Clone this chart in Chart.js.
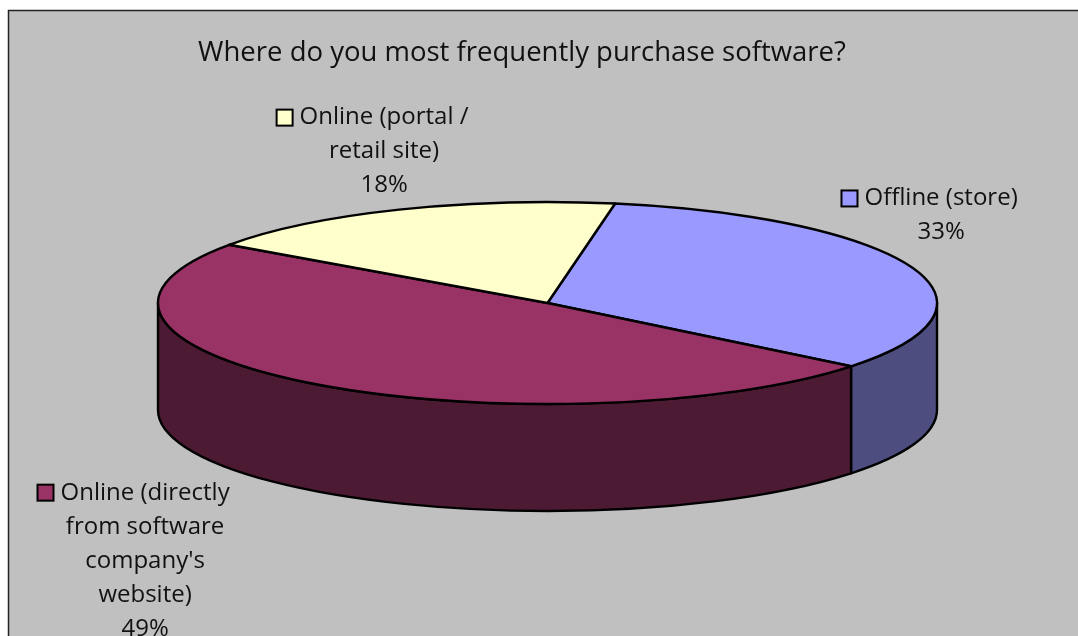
<!DOCTYPE html>
<html>
<head>
<meta charset="utf-8">
<script src="https://cdn.jsdelivr.net/npm/chart.js@4/dist/chart.umd.min.js"></script>
<style>
    html, body { margin: 0; padding: 0; background: #fff; }
    canvas { display: block; }
</style>
</head>
<body>
<canvas id="softwareChart" width="1078" height="636"></canvas>
<script>
const chartTitle = 'Where do you most frequently purchase software?';
const categories = ['Offline (store)', "Online (directly from software company's website)", 'Online (portal / retail site)'];
const shares = [33, 49, 18];
// wrapped text as it sits next to each slice
const labelLines = [
    ['Offline (store)'],
    ['Online (directly', 'from software', "company's", 'website)'],
    ['Online (portal /', 'retail site)']
];
const sliceColors = ['#9999ff', '#993366', '#ffffcc'];

document.addEventListener('DOMContentLoaded', () => {
    buildPieChart();
});

function darken(hex, f) {
    const n = parseInt(hex.slice(1), 16);
    const r = Math.round(((n >> 16) & 255) * f);
    const g = Math.round(((n >> 8) & 255) * f);
    const b = Math.round((n & 255) * f);
    return `rgb(${r}, ${g}, ${b})`;
}

const DEPTH = 107;        // height of the pie wall
const FONT = '"Open Sans", "DejaVu Sans", sans-serif';
// where each label block sits relative to its slice edge
const labelOffsets = [[29, -69], [-168, 2], [-15, -92]];

function pieGeometry(chart) {
    const a = chart.chartArea;
    const rx = (a.right - a.left) / 2;
    const ry = (a.bottom - a.top - DEPTH) / 2;
    return { cx: (a.left + a.right) / 2, cy: a.top + ry, rx, ry };
}

const pie3d = {
    id: 'pie3d',
    beforeDraw(chart) {
        const { ctx, width, height } = chart;
        ctx.save();
        ctx.fillStyle = '#ffffff';
        ctx.fillRect(0, 0, width, height);
        ctx.fillStyle = '#c0c0c0';
        ctx.fillRect(8, 10, width, height);
        ctx.strokeStyle = '#222';
        ctx.lineWidth = 1.5;
        ctx.strokeRect(8.5, 10.5, width + 20, height + 20);
        ctx.restore();
    },
    beforeDatasetsDraw(chart) {
        const { ctx } = chart;
        const { cx, cy, rx, ry } = pieGeometry(chart);
        const arcs = chart.getDatasetMeta(0).data;
        const colors = chart.data.datasets[0].backgroundColor;

        ctx.save();
        ctx.lineWidth = 2.4;
        ctx.strokeStyle = '#000';
        ctx.lineJoin = 'round';

        // front walls: only the part of the rim facing the viewer
        const windows = [[-2 * Math.PI, -Math.PI], [0, Math.PI], [2 * Math.PI, 3 * Math.PI]];
        arcs.forEach((arc, i) => {
            const { startAngle, endAngle } = arc.getProps(['startAngle', 'endAngle'], true);
            windows.forEach(([w0, w1]) => {
                const s = Math.max(startAngle, w0);
                const e = Math.min(endAngle, w1);
                if (e <= s) return;
                ctx.beginPath();
                ctx.ellipse(cx, cy, rx, ry, 0, s, e);
                ctx.lineTo(cx + rx * Math.cos(e), cy + DEPTH + ry * Math.sin(e));
                ctx.ellipse(cx, cy + DEPTH, rx, ry, 0, e, s, true);
                ctx.closePath();
                ctx.fillStyle = darken(colors[i], 0.5);
                ctx.fill();
                ctx.stroke();
            });
        });

        // top faces
        arcs.forEach((arc, i) => {
            const { startAngle, endAngle } = arc.getProps(['startAngle', 'endAngle'], true);
            ctx.beginPath();
            ctx.moveTo(cx, cy);
            ctx.ellipse(cx, cy, rx, ry, 0, startAngle, endAngle);
            ctx.closePath();
            ctx.fillStyle = colors[i];
            ctx.fill();
            ctx.stroke();
        });
        ctx.restore();
        return false;
    },
    afterDraw(chart) {
        const { ctx } = chart;
        const { cx, cy, rx, ry } = pieGeometry(chart);
        const arcs = chart.getDatasetMeta(0).data;
        const values = chart.data.datasets[0].data;
        const total = values.reduce((s, v) => s + v, 0);
        const colors = chart.data.datasets[0].backgroundColor;

        ctx.save();
        ctx.fillStyle = '#111';
        ctx.textAlign = 'center';
        ctx.textBaseline = 'middle';

        ctx.font = '27.5px ' + FONT;
        ctx.fillText(chartTitle, 522, 53);

        ctx.font = '24px ' + FONT;
        const lineH = 34;
        arcs.forEach((arc, i) => {
            const { startAngle, endAngle } = arc.getProps(['startAngle', 'endAngle'], true);
            const mid = (startAngle + endAngle) / 2;
            const front = Math.sin(mid) > 0;
            const px = cx + rx * Math.cos(mid) + labelOffsets[i][0];
            const py = cy + ry * Math.sin(mid) + (front ? DEPTH : 0) + labelOffsets[i][1];
            const lines = labelLines[i].concat(Math.round(values[i] / total * 100) + '%');

            lines.forEach((txt, k) => {
                ctx.fillStyle = '#111';
                ctx.fillText(txt, px, py + k * lineH);
            });

            // legend key in front of the first line
            const w = ctx.measureText(lines[0]).width;
            const kx = px - w / 2 - 7 - 16;
            ctx.fillStyle = colors[i];
            ctx.fillRect(kx, py - 8, 16, 16);
            ctx.lineWidth = 2;
            ctx.strokeStyle = '#000';
            ctx.strokeRect(kx, py - 8, 16, 16);
        });
        ctx.restore();
    }
};

function buildPieChart() {
    const ctx = document.getElementById('softwareChart').getContext('2d');
    new Chart(ctx, {
        type: 'pie',
        data: {
            labels: categories,
            datasets: [{
                data: shares,
                backgroundColor: sliceColors,
                borderWidth: 0
            }]
        },
        options: {
            responsive: false,
            animation: false,
            events: [],
            rotation: 10,
            layout: {
                padding: { left: 158, right: 141, top: 202, bottom: 125 }
            },
            plugins: {
                legend: { display: false },
                tooltip: { enabled: false },
                title: { display: false }
            }
        },
        plugins: [pie3d]
    });
}
</script>
</body>
</html>
